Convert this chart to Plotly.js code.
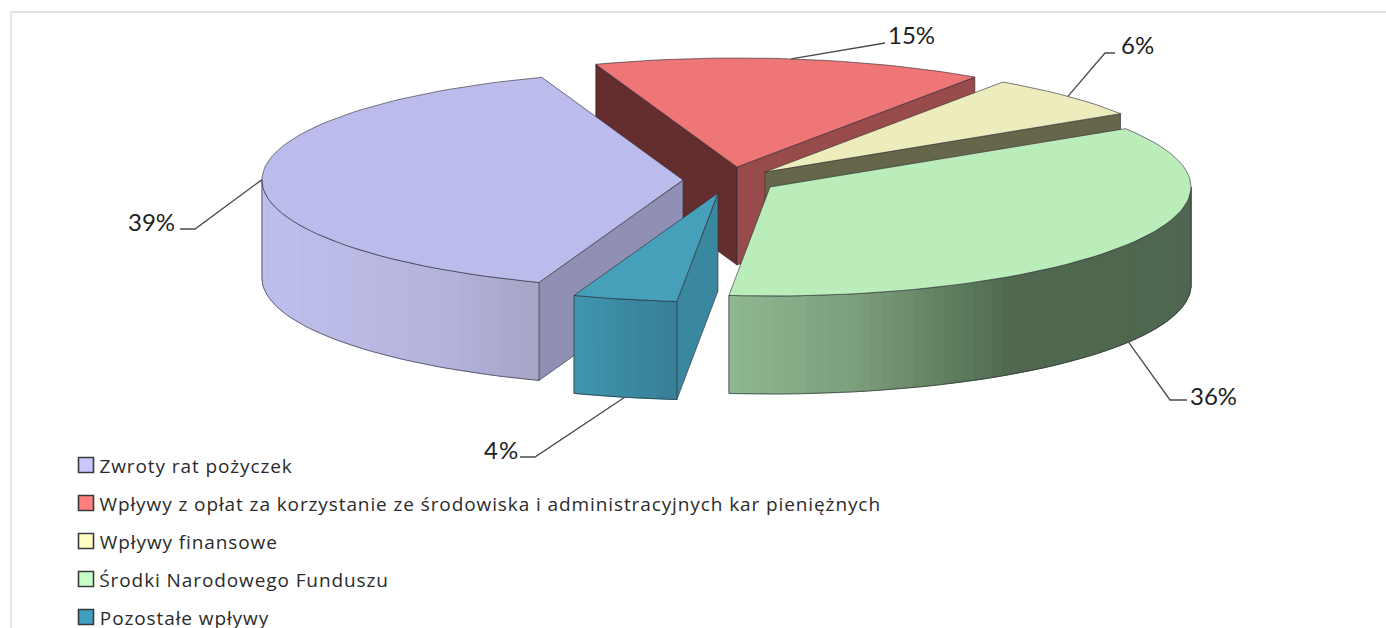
<!DOCTYPE html>
<html><head><meta charset="utf-8">
<script src="https://cdn.plot.ly/plotly-3.0.1.min.js"></script>
<style>html,body{margin:0;padding:0;background:#fff;overflow:hidden}#c{width:1386px;height:628px}
#c .annotation:nth-child(n+6) text{letter-spacing:.9px}</style>
</head><body><div id="c"></div>
<script>
// ---- data ----
const categories = ["Zwroty rat pożyczek",
  "Wpływy z opłat za korzystanie ze środowiska i administracyjnych kar pieniężnych",
  "Wpływy finansowe","Środki Narodowego Funduszu","Pozostałe wpływy"];
const values = [39, 15, 6.45, 35.55, 4];
const topColors = ["#bcbcec","#ef7676","#ececbc","#bbedbb","#46a0b9"];
const swatchColors = ["#c8c8ff","#ff8080","#ffffc4","#c8ffc8","#3f9fbf"];

// ---- drawing style / layout of the 3-D looking pie ----
const W=1386,H=628,RX=421,RY=109,DEPTH=98,START=110;
const apex=[[683,180],[737,167],[765,172],[770,187],[718,193]];
const startEdgeFill=["#9090b4","#652e2e",null,null,null];
const endEdgeFill=[null,"#984b4b","#66664a",null,null];
const frontEdgeFill=[null,null,null,null,"#3a88a0"];
const rimStops=[
 [[0,"#a5a5c6"],[.2,"#b3b3dc"],[.55,"#bcbce8"],[1,"#bebeec"]],
 null,null,
 [[0,"#4f6650"],[.58,"#50684f"],[.68,"#5f7f5f"],[.83,"#7da07d"],[1,"#90b890"]],
 [[0,"#357f97"],[1,"#3f95ad"]]
];
const drawOrder=[1,2,0,3,4];
const labelPos=[[151,221],[911,34],[1137,44],[1213,395],[501,449]];
const elbows=[[[195,229],[180,229]],[[885,43]],[[1105,53],[1115,53]],[[1170,400],[1187,400]],[[535,457],[520,457]]];
const legendRows=[465,503,541,579,617];
const legendTextWidths=[193,782,180,289,170];

const rad=d=>d*Math.PI/180;
const pt=(c,t,dz=0)=>[c[0]+RX*Math.cos(rad(t)),c[1]+RY*Math.sin(rad(t))+dz];
const hex=s=>[1,3,5].map(i=>parseInt(s.substr(i,2),16));
function mix(a,b,f){const A=hex(a),B=hex(b);return "rgb("+A.map((v,i)=>Math.round(v+(B[i]-v)*f)).join(",")+")";}
function stopColor(st,f){for(let i=1;i<st.length;i++){if(f<=st[i][0]){return mix(st[i-1][1],st[i][1],(f-st[i-1][0])/(st[i][0]-st[i-1][0]));}}return st[st.length-1][1];}

// slice angles from the values
const total=values.reduce((a,b)=>a+b,0);
let run=START;const ang=values.map(v=>{const s=run;run+=v/total*360;return [s,run];});

const traces=[];
function poly(pts,fill,line,lw){
  traces.push({type:"scatter",mode:"lines",x:pts.map(p=>p[0]),y:pts.map(p=>p[1]),fill:"toself",fillcolor:fill,
    line:{color:line||fill,width:lw===undefined?1:lw},hoverinfo:"skip",showlegend:false});
}
const EDGE="rgba(45,45,55,0.62)";
function cutWall(i,t,col){
  const c=apex[i],r=pt(c,t);
  poly([c,r,[r[0],r[1]+DEPTH],[c[0],c[1]+DEPTH],c],col,EDGE,1);
}
function arc(c,a,b,dz,n){const o=[];for(let k=0;k<=n;k++)o.push(pt(c,a+(b-a)*k/n,dz));return o;}
function rimWall(i){
  const st=rimStops[i];if(!st)return;
  const c=apex[i];
  // visible front part: angles between 0 and 180
  let lo,hi;
  const a=ang[i][0],b=ang[i][1];
  if(a<360&&b>360){lo=0;hi=b-360;}
  else if(a>=360){lo=a-360;hi=b-360;}
  else{lo=a;hi=Math.min(b,180);}
  const n=Math.max(6,Math.round((hi-lo)/1.5));
  for(let k=0;k<n;k++){
    const t1=lo+(hi-lo)*k/n,t2=lo+(hi-lo)*(k+1)/n;
    const col=stopColor(st,((t1+t2)/2-lo)/(hi-lo));
    const top=arc(c,t1,t2,0,2),bot=arc(c,t2,t1,DEPTH,2);
    poly(top.concat(bot,[top[0]]),col,col,1);
  }
  const top=arc(c,lo,hi,0,40),bot=arc(c,hi,lo,DEPTH,40);
  const o=top.concat(bot,[top[0]]);
  traces.push({type:"scatter",mode:"lines",x:o.map(p=>p[0]),y:o.map(p=>p[1]),line:{color:EDGE,width:1},hoverinfo:"skip",showlegend:false});
}
drawOrder.forEach(i=>{
  const [a,b]=ang[i];
  if(startEdgeFill[i]) cutWall(i,a,startEdgeFill[i]);
  if(endEdgeFill[i]) cutWall(i,b,endEdgeFill[i]);
  if(frontEdgeFill[i]) cutWall(i,a,frontEdgeFill[i]);
  rimWall(i);
  const rim=arc(apex[i],a,b,0,Math.max(8,Math.round((b-a)/2)));
  poly([apex[i]].concat(rim,[apex[i]]),topColors[i],EDGE,1);
});

// leader lines: start on the rim at each slice's mid angle
ang.forEach((g,i)=>{
  const mid=(g[0]+g[1])/2;
  const onFront=Math.sin(rad(mid))>0.05;
  const s=pt(apex[i],mid,onFront?DEPTH:0);
  const o=[s].concat(elbows[i]);
  traces.push({type:"scatter",mode:"lines",x:o.map(p=>p[0]),y:o.map(p=>p[1]),line:{color:"#4a4a4a",width:1.3},hoverinfo:"skip",showlegend:false});
});

// legend swatches
traces.push({type:"scatter",mode:"markers",x:categories.map(()=>86),y:legendRows,
  marker:{symbol:"square",size:15,color:swatchColors,line:{color:"#3a3a3a",width:1.6}},hoverinfo:"skip",showlegend:false});

const annotations=[];
values.forEach((v,i)=>annotations.push({x:labelPos[i][0],y:labelPos[i][1],xref:"x",yref:"y",showarrow:false,
  text:Math.round(v)+"%",font:{family:"Lato, 'Open Sans', sans-serif",size:24,color:"#1f1f1f"}}));
categories.forEach((c,i)=>annotations.push({x:99+legendTextWidths[i]/2,y:legendRows[i]+1,xref:"x",yref:"y",xanchor:"center",showarrow:false,
  text:c,font:{family:"'Open Sans', sans-serif",size:19,color:"#2b2b2b"}}));

const layout={width:W,height:H,margin:{l:0,r:0,t:0,b:0},paper_bgcolor:"#fff",plot_bgcolor:"#fff",showlegend:false,
  xaxis:{range:[0,W],visible:false,fixedrange:true},
  yaxis:{range:[H,0],visible:false,fixedrange:true},
  annotations,
  shapes:[{type:"line",xref:"x",yref:"y",x0:11,y0:12,x1:11,y1:H,line:{color:"#e4e4e4",width:2}},
          {type:"line",xref:"x",yref:"y",x0:11,y0:12,x1:W,y1:12,line:{color:"#e4e4e4",width:2}}]};
Plotly.newPlot("c",traces,layout,{displayModeBar:false,staticPlot:true});
</script></body></html>
